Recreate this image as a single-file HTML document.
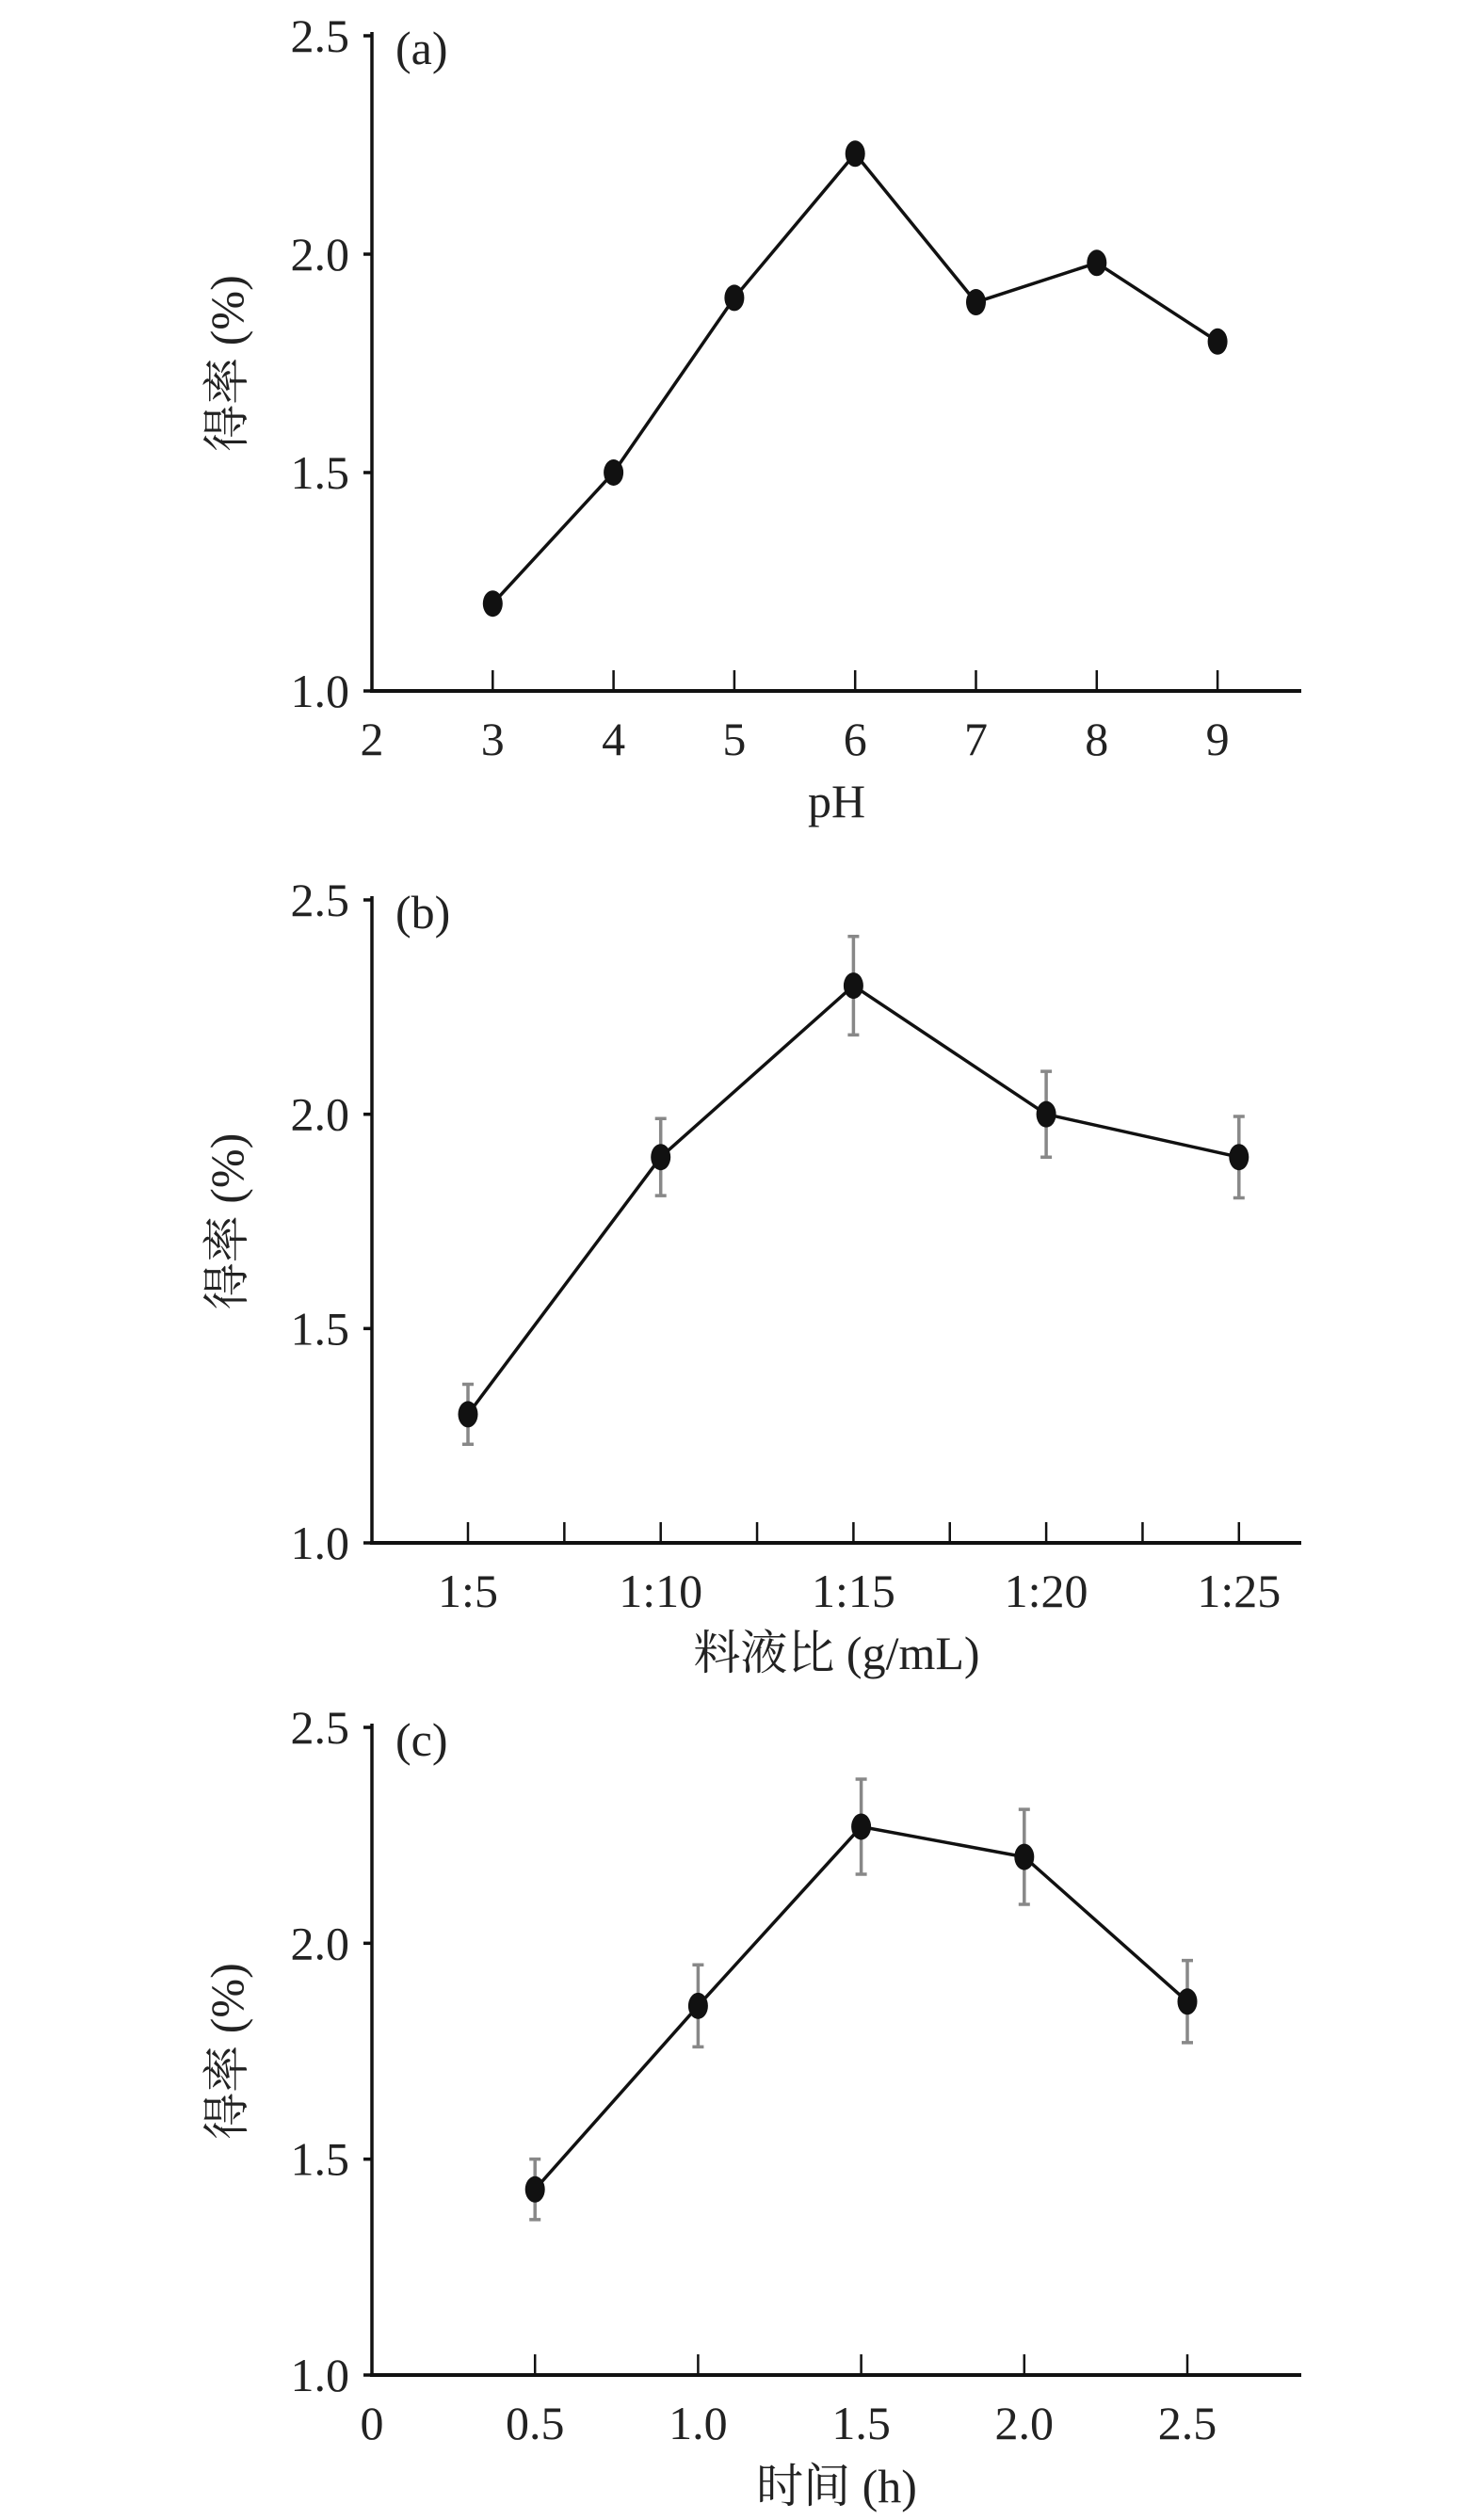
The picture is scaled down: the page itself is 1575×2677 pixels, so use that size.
<!DOCTYPE html>
<html><head><meta charset="utf-8"><style>
html,body{margin:0;padding:0;background:#fff}
svg{display:block}
text{font-family:"Liberation Serif","Noto Serif CJK SC","Noto Sans CJK SC",serif;fill:#222}
</style></head><body>
<svg id="fig" width="1575" height="2677" viewBox="0 0 1575 2677" xmlns="http://www.w3.org/2000/svg"></svg>
<script>
const aCats=[3,4,5,6,7,8,9];
const aVals=[1.2,1.5,1.9,2.23,1.89,1.98,1.8];
const aXTicks=[2,3,4,5,6,7,8,9];
const bCats=["1:5","1:10","1:15","1:20","1:25"];
const bVals=[1.3,1.9,2.3,2.0,1.9];
const bErr=[0.07,0.09,0.115,0.1,0.095];
const cCats=[0.5,1.0,1.5,2.0,2.5];
const cVals=[1.43,1.855,2.27,2.2,1.865];
const cErr=[0.07,0.095,0.11,0.11,0.095];
const cXTicks=["0","0.5","1.0","1.5","2.0","2.5"];
const yTicks=["1.0","1.5","2.0","2.5"];

const NS="http://www.w3.org/2000/svg";
const svg=document.getElementById('fig');
function el(tag,attrs,parent,txt){const e=document.createElementNS(NS,tag);for(const k in attrs)e.setAttribute(k,attrs[k]);if(txt!==undefined)e.textContent=txt;(parent||svg).appendChild(e);return e;}

function panel(id,top,bottom,xFn,ticks,minorTicks,pts,errs,xTitle,xTitleY,label){
  const g=el('g',{});
  
  
  const L=395,R=1382;
  const y=v=>bottom-(v-1.0)/1.5*(bottom-top);
  const ya=el('line',{x1:L,y1:top-4,x2:L,y2:bottom+2,stroke:'#111','stroke-width':3.5},g);
  
  
  const xa=el('line',{x1:L-2,y1:bottom,x2:R,y2:bottom,stroke:'#111','stroke-width':4},g);
  
  
  yTicks.forEach(t=>{
    const yy=y(parseFloat(t));
    el('line',{x1:L-9,y1:yy,x2:L,y2:yy,stroke:'#111','stroke-width':3.5},g);
    const tx=el('text',{x:371,y:yy+17,'font-size':50,'text-anchor':'end'},g,t);
    
    
  });
  ticks.forEach(tk=>{
    const xx=tk.x;
    if(tk.mark) el('line',{x1:xx,y1:bottom-22,x2:xx,y2:bottom,stroke:'#111','stroke-width':2.5},g);
    const tx=el('text',{x:xx,y:bottom+68,'font-size':50,'text-anchor':'middle'},g,tk.label);
    
    
  });
  minorTicks.forEach(xx=>el('line',{x1:xx,y1:bottom-22,x2:xx,y2:bottom,stroke:'#111','stroke-width':2.5},g));
  const d=pts.map((p,i)=>(i?'L':'M')+xFn(i)+' '+y(p)).join(' ');
  const ln=el('path',{d:d,fill:'none',stroke:'#111','stroke-width':3.5},g);
  
  
  pts.forEach((p,i)=>{
    const xx=xFn(i),yy=y(p);
    if(errs){
      const e=errs[i];
      const eg=el('path',{d:`M${xx} ${y(p+e)}L${xx} ${y(p-e)}M${xx-6} ${y(p+e)}L${xx+6} ${y(p+e)}M${xx-6} ${y(p-e)}L${xx+6} ${y(p-e)}`,stroke:'#888','stroke-width':3.5,fill:'none'},g);
      
      
    }
    const m=el('ellipse',{cx:xx,cy:yy,rx:10.5,ry:14,fill:'#111'},g);
    
    
  });
  const lb=el('text',{x:420,y:top+30,'font-size':50},g,label);
  
  
  const yt=el('text',{x:0,y:0,'font-size':50,'text-anchor':'middle',transform:`translate(258 ${(top+bottom)/2}) rotate(-90)`},g,'得率 (%)');
  
  
  const xt=el('text',{x:(L+R)/2,y:xTitleY,'font-size':50,'text-anchor':'middle'},g,xTitle);
  
  
}

const ax=v=>395+(v-2)*128.3;
panel('a',38,734,i=>ax(aCats[i]),aXTicks.map(v=>({x:ax(v),label:String(v),mark:v!==2})),[],aVals,null,'pH',868,'(a)');
const bx=i=>497+i*204.7;
panel('b',956,1639,bx,bCats.map((c,i)=>({x:bx(i),label:c,mark:true})),bCats.slice(0,4).map((c,i)=>bx(i)+102.35),bVals,bErr,'料液比 (g/mL)',1773,'(b)');
const cx=v=>395+v/0.5*173.2;
panel('c',1835,2523,i=>cx(cCats[i]),cXTicks.map(t=>({x:cx(parseFloat(t)),label:t,mark:t!=="0"})),[],cVals,cErr,'时间 (h)',2658,'(c)');
</script>
</body></html>
